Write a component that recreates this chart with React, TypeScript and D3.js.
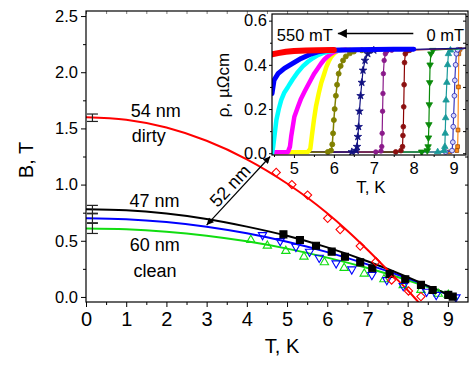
import React, { useEffect, useRef } from 'react';
import * as d3 from 'd3';

const FONT = '"Liberation Sans", Arial, Helvetica, sans-serif';

// main panel: B(T) fit lines
const redFitT = [0, 1, 2, 3, 4, 5, 5.5, 6, 6.5, 7, 7.5, 8, 8.4];
const redFitB = [1.6, 1.577, 1.508, 1.39, 1.225, 1.01, 0.885, 0.745, 0.59, 0.42, 0.24, 0.06, -0.1];
const blackFitT = [0, 1, 2, 3, 4, 5, 6, 7, 8, 8.5, 9, 9.12];
const blackFitB = [0.78, 0.771, 0.742, 0.694, 0.626, 0.544, 0.441, 0.318, 0.177, 0.099, 0.017, -0.01];
const blueFitT = [0, 1, 2, 3, 4, 5, 6, 7, 8, 8.5, 9, 9.18];
const blueFitB = [0.7, 0.692, 0.667, 0.625, 0.566, 0.491, 0.399, 0.29, 0.165, 0.096, 0.019, -0.01];
const greenFitT = [0, 1, 2, 3, 4, 5, 6, 7, 8, 8.5, 9, 9.25];
const greenFitB = [0.61, 0.603, 0.581, 0.545, 0.495, 0.43, 0.35, 0.257, 0.149, 0.089, 0.026, -0.02];

// main panel: measured points
const redPtT = [4.73, 5.12, 5.51, 6.01, 6.32, 6.82, 7.21, 7.6, 8.02, 8.33];
const redPtB = [1.108, 1.0, 0.907, 0.7, 0.6, 0.453, 0.314, 0.151, 0.053, 0.003];
const blackPtT = [4.91, 5.32, 5.72, 6.11, 6.44, 6.82, 7.12, 7.55, 7.94, 8.33, 8.62, 9.01, 9.12];
const blackPtB = [0.557, 0.507, 0.456, 0.403, 0.358, 0.308, 0.255, 0.204, 0.157, 0.107, 0.062, 0.018, 0.003];
const bluePtT = [4.39, 4.83, 5.22, 5.56, 5.8, 6.22, 6.61, 7.11, 7.48, 7.89, 8.47, 8.71, 9.2];
const bluePtB = [0.551, 0.498, 0.447, 0.403, 0.35, 0.3, 0.246, 0.196, 0.151, 0.098, 0.047, 0.018, -0.003];
const greenPtT = [4.1, 4.51, 4.97, 5.42, 5.93, 6.42, 6.92, 7.41, 7.89, 8.33, 8.76, 9.01];
const greenPtB = [0.507, 0.456, 0.409, 0.358, 0.308, 0.258, 0.207, 0.157, 0.104, 0.062, 0.027, 0.018];

// zero-temperature values with error bars
const errCenter = [1.595, 0.78, 0.7, 0.61];
const errHalf = [0.033, 0.035, 0.04, 0.045];
const errT = 0.16;

// inset: resistivity curves, 550 mT (red) down to 0 mT (orange)
const redT = [4.45, 4.6, 4.8, 5.0, 5.3, 5.6, 6.0];
const redR = [0.447, 0.453, 0.459, 0.463, 0.465, 0.466, 0.467];
const blueT = [4.45, 4.5, 4.6, 4.76, 5.0, 5.18, 5.4, 5.6, 5.85, 6.5, 7.0, 7.5, 8.0];
const blueR = [0.27, 0.33, 0.36, 0.384, 0.41, 0.429, 0.447, 0.459, 0.466, 0.468, 0.469, 0.47, 0.471];
const cyanT = [4.45, 4.48, 4.52, 4.56, 4.62, 4.68, 4.76, 4.85, 4.97, 5.1, 5.22, 5.35, 5.47, 5.6, 5.72, 5.85, 6.0, 6.2];
const cyanR = [0.0, 0.03, 0.09, 0.15, 0.2, 0.24, 0.275, 0.3, 0.335, 0.368, 0.393, 0.414, 0.43, 0.444, 0.453, 0.459, 0.464, 0.467];
const magentaT = [4.45, 4.85, 4.9, 4.93, 4.97, 5.01, 5.1, 5.18, 5.27, 5.35, 5.43, 5.51, 5.6, 5.68, 5.76, 5.85, 5.93, 6.01, 6.14, 6.3];
const magentaR = [0.005, 0.006, 0.03, 0.075, 0.12, 0.165, 0.21, 0.248, 0.28, 0.308, 0.335, 0.361, 0.385, 0.406, 0.424, 0.439, 0.45, 0.459, 0.466, 0.468];
const yellowT = [4.45, 5.35, 5.41, 5.45, 5.5, 5.55, 5.62, 5.68, 5.75, 5.81, 5.87, 5.93, 6.0, 6.06, 6.14, 6.4];
const yellowR = [0.005, 0.006, 0.02, 0.08, 0.15, 0.21, 0.27, 0.316, 0.355, 0.39, 0.415, 0.436, 0.45, 0.46, 0.466, 0.468];
const oliveT = [4.45, 5.85, 5.93, 5.96, 5.98, 6.0, 6.02, 6.05, 6.08, 6.12, 6.17, 6.23, 6.3, 6.4, 6.5, 6.7, 7.0];
const oliveR = [0.005, 0.006, 0.012, 0.04, 0.09, 0.15, 0.2, 0.26, 0.31, 0.36, 0.395, 0.42, 0.438, 0.452, 0.46, 0.466, 0.468];
const navyT = [4.45, 6.45, 6.56, 6.58, 6.6, 6.62, 6.64, 6.67, 6.7, 6.73, 6.78, 6.85, 7.0, 9.31];
const navyR = [0.005, 0.006, 0.012, 0.03, 0.075, 0.12, 0.19, 0.26, 0.32, 0.375, 0.42, 0.45, 0.466, 0.476];
const purpleT = [4.45, 7.05, 7.18, 7.2, 7.21, 7.22, 7.23, 7.24, 7.26, 7.29, 7.33, 7.45, 9.31];
const purpleR = [0.005, 0.006, 0.01, 0.03, 0.09, 0.19, 0.27, 0.36, 0.42, 0.45, 0.462, 0.466, 0.475];
const darkredT = [4.45, 7.55, 7.68, 7.72, 7.73, 7.74, 7.75, 7.76, 7.77, 7.79, 7.82, 7.9, 9.31];
const darkredR = [0.005, 0.006, 0.012, 0.03, 0.08, 0.12, 0.21, 0.31, 0.41, 0.45, 0.462, 0.466, 0.475];
const greenT = [4.45, 8.2, 8.34, 8.36, 8.37, 8.38, 8.39, 8.4, 8.41, 8.43, 8.48, 9.31];
const greenR = [0.005, 0.006, 0.012, 0.03, 0.07, 0.13, 0.22, 0.32, 0.4, 0.45, 0.466, 0.475];
const tealT = [4.45, 8.6, 8.76, 8.78, 8.79, 8.8, 8.81, 8.83, 8.85, 8.87, 8.92, 9.31];
const tealR = [0.005, 0.006, 0.012, 0.03, 0.09, 0.16, 0.24, 0.32, 0.4, 0.45, 0.466, 0.475];
const royalT = [4.45, 8.8, 8.96, 8.98, 8.99, 9.0, 9.02, 9.03, 9.05, 9.07, 9.1, 9.31];
const royalR = [0.005, 0.006, 0.012, 0.05, 0.12, 0.17, 0.26, 0.33, 0.4, 0.45, 0.468, 0.475];
const orangeT = [4.45, 8.9, 9.08, 9.1, 9.11, 9.12, 9.13, 9.16, 9.31];
const orangeR = [0.005, 0.006, 0.012, 0.03, 0.105, 0.3, 0.45, 0.47, 0.475];

const App = () => {
  const svgRef = useRef<SVGSVGElement>(null);

  useEffect(() => {
    const svg = d3.select(svgRef.current);
    svg.selectAll('*').remove();

    // main scales
    const x = d3.scaleLinear().domain([0, 9.5]).range([86, 468]);
    const y = d3.scaleLinear().domain([-0.045, 2.545]).range([302, 11]);
    // inset scales
    const xi = d3.scaleLinear().domain([4.45, 9.31]).range([272, 466]);
    const yi = d3.scaleLinear().domain([-0.008, 0.63]).range([155, 14]);

    const defs = svg.append('defs');
    defs.append('clipPath').attr('id', 'mainClip')
      .append('rect').attr('x', 86).attr('y', 11).attr('width', 382).attr('height', 291);
    defs.append('clipPath').attr('id', 'insetClip')
      .append('rect').attr('x', 272).attr('y', 14).attr('width', 194).attr('height', 141);
    defs.append('marker').attr('id', 'head')
      .attr('viewBox', '0 0 10 10').attr('refX', 10).attr('refY', 5)
      .attr('markerWidth', 9).attr('markerHeight', 7)
      .attr('markerUnits', 'userSpaceOnUse').attr('orient', 'auto-start-reverse')
      .append('path').attr('d', 'M0,0L10,5L0,10z').attr('fill', '#000');
    defs.append('marker').attr('id', 'bighead')
      .attr('viewBox', '0 0 10 10').attr('refX', 10).attr('refY', 5)
      .attr('markerWidth', 13).attr('markerHeight', 9)
      .attr('markerUnits', 'userSpaceOnUse').attr('orient', 'auto')
      .append('path').attr('d', 'M0,0L10,5L0,10z').attr('fill', '#000');

    // ---- main panel ----
    const plot = svg.append('g').attr('clip-path', 'url(#mainClip)');
    const fitLine = d3.line<[number, number]>()
      .x(d => x(d[0])).y(d => y(d[1]))
      .curve(d3.curveMonotoneX);

    const fits = [
      { T: greenFitT, B: greenFitB, color: '#11dd11' },
      { T: blueFitT, B: blueFitB, color: '#0000ff' },
      { T: blackFitT, B: blackFitB, color: '#000000' },
      { T: redFitT, B: redFitB, color: '#ff0000' },
    ];
    fits.forEach(f => {
      plot.append('path')
        .datum(d3.zip(f.T, f.B) as [number, number][])
        .attr('fill', 'none')
        .attr('stroke', f.color)
        .attr('stroke-width', 2)
        .attr('d', fitLine);
    });

    const pts = [
      { T: greenPtT, B: greenPtB, type: d3.symbolTriangle, size: 30, rot: 0, fill: 'none', stroke: '#11dd11' },
      { T: bluePtT, B: bluePtB, type: d3.symbolTriangle, size: 30, rot: 180, fill: 'none', stroke: '#0000ff' },
      { T: blackPtT, B: blackPtB, type: d3.symbolSquare, size: 49, rot: 0, fill: '#000', stroke: '#000' },
      { T: redPtT, B: redPtB, type: d3.symbolSquare, size: 34, rot: 45, fill: 'none', stroke: '#ff0000' },
    ];
    pts.forEach(p => {
      plot.append('g').selectAll('path')
        .data(d3.zip(p.T, p.B))
        .join('path')
        .attr('d', d3.symbol().type(p.type).size(p.size)())
        .attr('transform', d => `translate(${x(d[0])},${y(d[1])}) rotate(${p.rot})`)
        .attr('fill', p.fill)
        .attr('stroke', p.stroke)
        .attr('stroke-width', 1.1);
    });

    // error bars at low T
    const eb = svg.append('g').attr('stroke', '#222').attr('stroke-width', 1.2);
    errCenter.forEach((c, i) => {
      const lo = y(c - errHalf[i]);
      const hi = y(c + errHalf[i]);
      const cx = x(errT);
      eb.append('line').attr('x1', cx).attr('x2', cx).attr('y1', lo).attr('y2', hi);
      eb.append('line').attr('x1', cx - 5.5).attr('x2', cx + 5.5).attr('y1', lo).attr('y2', lo);
      eb.append('line').attr('x1', cx - 5.5).attr('x2', cx + 5.5).attr('y1', hi).attr('y2', hi);
    });

    // frame + axes
    svg.append('rect')
      .attr('x', 86).attr('y', 11).attr('width', 382).attr('height', 291)
      .attr('fill', 'none').attr('stroke', '#000').attr('stroke-width', 1.2);

    const yMajor = [0, 0.5, 1, 1.5, 2, 2.5];
    const yMinor = [0.25, 0.75, 1.25, 1.75, 2.25];
    const xMajor = d3.range(0, 10);
    const xMinor = d3.range(0.5, 9.5, 1);

    const gy = svg.append('g').attr('transform', 'translate(86,0)')
      .call(d3.axisLeft(y).tickValues(yMajor).tickSize(5).tickPadding(3).tickSizeOuter(0).tickFormat(d3.format('.1f')));
    gy.attr('font-family', FONT).attr('font-size', 16.5);
    gy.select('.domain').remove();
    svg.append('g').attr('transform', 'translate(86,0)')
      .call(d3.axisLeft(y).tickValues(yMinor).tickSize(3).tickFormat(() => ''))
      .call(g => g.select('.domain').remove());

    const gx = svg.append('g').attr('transform', 'translate(0,302)')
      .call(d3.axisBottom(x).tickValues(xMajor).tickSize(5).tickPadding(5).tickSizeOuter(0).tickFormat(d3.format('d')));
    gx.attr('font-family', FONT).attr('font-size', 20);
    gx.select('.domain').remove();
    svg.append('g').attr('transform', 'translate(0,302)')
      .call(d3.axisBottom(x).tickValues(xMinor).tickSize(3).tickFormat(() => ''))
      .call(g => g.select('.domain').remove());

    // mirrored inward ticks on top and right
    svg.append('g').attr('transform', 'translate(468,0)')
      .call(d3.axisLeft(y).tickValues([...yMajor, ...yMinor]).tickSize(3).tickFormat(() => ''))
      .call(g => g.select('.domain').remove());
    svg.append('g').attr('transform', 'translate(0,11)')
      .call(d3.axisBottom(x).tickValues([...xMajor, ...xMinor]).tickSize(3).tickFormat(() => ''))
      .call(g => g.select('.domain').remove())
      .attr('stroke-opacity', 0.5);

    svg.append('text')
      .attr('transform', 'translate(33,160) rotate(-90)')
      .attr('text-anchor', 'middle')
      .attr('font-family', FONT).attr('font-size', 20)
      .text('B, T');
    svg.append('text')
      .attr('x', 282).attr('y', 353)
      .attr('text-anchor', 'middle')
      .attr('font-family', FONT).attr('font-size', 20)
      .text('T, K');

    // curve labels
    const labels = [
      { t: '54 nm', T: 1.11, B: 1.6 },
      { t: 'dirty', T: 1.14, B: 1.38 },
      { t: '47 nm', T: 1.08, B: 0.8 },
      { t: '60 nm', T: 1.09, B: 0.41 },
      { t: 'clean', T: 1.18, B: 0.18 },
    ];
    svg.append('g').selectAll('text')
      .data(labels).join('text')
      .attr('x', d => x(d.T)).attr('y', d => y(d.B))
      .attr('font-family', FONT).attr('font-size', 18)
      .text(d => d.t);

    // ---- inset ----
    svg.append('rect')
      .attr('x', 272).attr('y', 14).attr('width', 194).attr('height', 141)
      .attr('fill', '#fff');

    const ins = svg.append('g').attr('clip-path', 'url(#insetClip)');
    const rLine = d3.line<[number, number]>().x(d => xi(d[0])).y(d => yi(d[1]));

    const curves = [
      { T: orangeT, R: orangeR, color: '#ff8c1a', w: 1.2, sym: d3.symbolSquare, size: 14, rot: 0, fill: '#ff8c1a', stroke: '#a04a00' },
      { T: royalT, R: royalR, color: '#3a3ac0', w: 1.2, sym: d3.symbolCircle, size: 18, rot: 0, fill: '#d8d8ff', stroke: '#2626b0' },
      { T: tealT, R: tealR, color: '#1a9a9a', w: 1.2, sym: d3.symbolTriangle, size: 18, rot: 0, fill: '#1a9a9a', stroke: '#1a9a9a' },
      { T: greenT, R: greenR, color: '#0a8a0a', w: 1.2, sym: d3.symbolTriangle, size: 18, rot: 180, fill: '#0a8a0a', stroke: '#0a8a0a' },
      { T: darkredT, R: darkredR, color: '#8b0000', w: 1.2, sym: d3.symbolCircle, size: 18, rot: 0, fill: '#8b1010', stroke: '#8b1010' },
      { T: purpleT, R: purpleR, color: '#8a1a8a', w: 1.2, sym: d3.symbolCircle, size: 16, rot: 0, fill: '#8a1a8a', stroke: '#8a1a8a' },
      { T: navyT, R: navyR, color: '#101080', w: 1.2, sym: d3.symbolStar, size: 18, rot: 0, fill: '#101080', stroke: '#101080' },
      { T: oliveT, R: oliveR, color: '#808000', w: 1.5, sym: d3.symbolCircle, size: 20, rot: 0, fill: '#808000', stroke: '#808000' },
      { T: yellowT, R: yellowR, color: '#ffff00', w: 4.5, sym: null, size: 0, rot: 0, fill: '', stroke: '' },
      { T: magentaT, R: magentaR, color: '#ff00ff', w: 4.5, sym: null, size: 0, rot: 0, fill: '', stroke: '' },
      { T: cyanT, R: cyanR, color: '#00ffff', w: 4.5, sym: null, size: 0, rot: 0, fill: '', stroke: '' },
      { T: blueT, R: blueR, color: '#0000ff', w: 5, sym: null, size: 0, rot: 0, fill: '', stroke: '' },
      { T: redT, R: redR, color: '#ff0000', w: 6, sym: null, size: 0, rot: 0, fill: '', stroke: '' },
    ];
    curves.forEach(c => {
      const data = d3.zip(c.T, c.R) as [number, number][];
      ins.append('path')
        .datum(data)
        .attr('fill', 'none')
        .attr('stroke', c.color)
        .attr('stroke-width', c.w)
        .attr('stroke-linejoin', 'round')
        .attr('stroke-linecap', 'round')
        .attr('d', rLine);
      if (c.sym) {
        ins.append('g').selectAll('path')
          .data(data.slice(1, -1))
          .join('path')
          .attr('d', d3.symbol().type(c.sym).size(c.size)())
          .attr('transform', d => `translate(${xi(d[0])},${yi(d[1])}) rotate(${c.rot})`)
          .attr('fill', c.fill)
          .attr('stroke', c.stroke)
          .attr('stroke-width', 0.8);
      }
    });

    svg.append('rect')
      .attr('x', 272).attr('y', 14).attr('width', 194).attr('height', 141)
      .attr('fill', 'none').attr('stroke', '#000').attr('stroke-width', 1.2);

    const giy = svg.append('g').attr('transform', 'translate(272,0)')
      .call(d3.axisLeft(yi).tickValues([0, 0.2, 0.4, 0.6]).tickSize(3).tickPadding(2).tickSizeOuter(0).tickFormat(d3.format('.1f')));
    giy.attr('font-family', FONT).attr('font-size', 16.5);
    giy.select('.domain').remove();
    svg.append('g').attr('transform', 'translate(272,0)')
      .call(d3.axisLeft(yi).tickValues([0.1, 0.3, 0.5]).tickSize(2).tickFormat(() => ''))
      .call(g => g.select('.domain').remove());
    const gix = svg.append('g').attr('transform', 'translate(0,155)')
      .call(d3.axisBottom(xi).tickValues([5, 6, 7, 8, 9]).tickSize(3).tickPadding(4).tickSizeOuter(0).tickFormat(d3.format('d')));
    gix.attr('font-family', FONT).attr('font-size', 16.5);
    gix.select('.domain').remove();
    svg.append('g').attr('transform', 'translate(0,155)')
      .call(d3.axisBottom(xi).tickValues([4.5, 5.5, 6.5, 7.5, 8.5]).tickSize(2).tickFormat(() => ''))
      .call(g => g.select('.domain').remove());
    svg.append('g').attr('transform', 'translate(466,0)')
      .call(d3.axisLeft(yi).tickValues([0, 0.1, 0.2, 0.3, 0.4, 0.5, 0.6]).tickSize(3).tickFormat(() => ''))
      .call(g => g.select('.domain').remove());

    svg.append('text')
      .attr('transform', 'translate(229,85) rotate(-90)')
      .attr('text-anchor', 'middle')
      .attr('font-family', FONT).attr('font-size', 17)
      .text('ρ, µΩcm');
    svg.append('text')
      .attr('x', 371).attr('y', 193)
      .attr('text-anchor', 'middle')
      .attr('font-family', FONT).attr('font-size', 17)
      .text('T, K');

    svg.append('text')
      .attr('x', xi(4.57)).attr('y', yi(0.51))
      .attr('font-family', FONT).attr('font-size', 16.5)
      .text('550 mT');
    svg.append('text')
      .attr('x', xi(9.26)).attr('y', yi(0.51))
      .attr('text-anchor', 'end')
      .attr('font-family', FONT).attr('font-size', 16.5)
      .text('0 mT');
    svg.append('line')
      .attr('x1', xi(7.99)).attr('y1', yi(0.542))
      .attr('x2', xi(6.1)).attr('y2', yi(0.542))
      .attr('stroke', '#000').attr('stroke-width', 1.5)
      .attr('marker-end', 'url(#bighead)');

    // 52 nm double arrow from blue curve to inset
    svg.append('line')
      .attr('x1', x(3.0)).attr('y1', y(0.64))
      .attr('x2', x(4.58)).attr('y2', y(1.25))
      .attr('stroke', '#000').attr('stroke-width', 1.2)
      .attr('marker-start', 'url(#head)')
      .attr('marker-end', 'url(#head)');
    svg.append('text')
      .attr('transform', `translate(${x(3.58)},${y(0.99)}) rotate(-47)`)
      .attr('text-anchor', 'middle')
      .attr('dy', '0.35em')
      .attr('font-family', FONT).attr('font-size', 18)
      .text('52 nm');
  }, []);

  return (
    <svg
      ref={svgRef}
      width={470}
      height={367}
      style={{ position: 'absolute', left: 0, top: 0, background: '#fff' }}
    />
  );
};

export default App;
